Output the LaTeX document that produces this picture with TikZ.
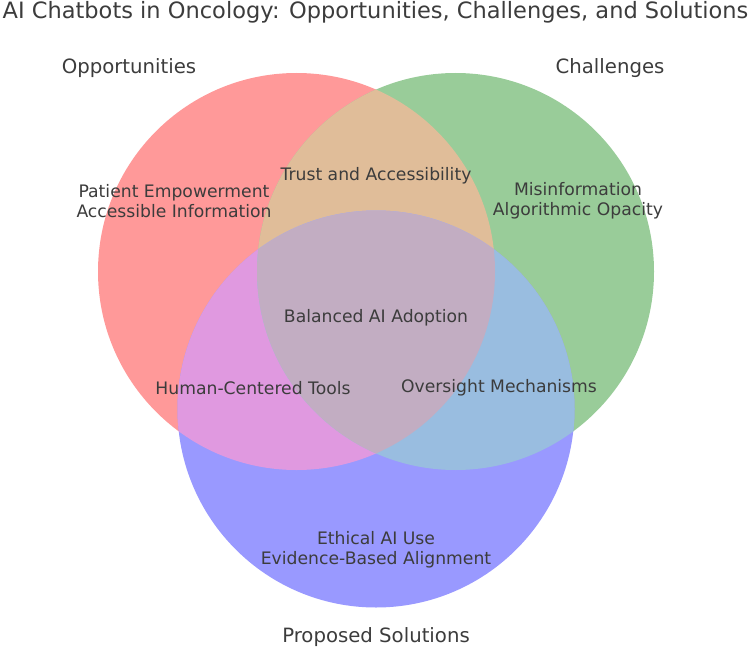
\documentclass[tikz,border=0pt]{standalone}
\usepackage{fontspec}
\setmainfont{DejaVu Sans}
\definecolor{cR}{RGB}{255,153,153}
\definecolor{cG}{RGB}{153,204,153}
\definecolor{cB}{RGB}{153,153,255}
\definecolor{cRG}{RGB}{224,189,153}
\definecolor{cRB}{RGB}{224,153,224}
\definecolor{cGB}{RGB}{153,189,224}
\definecolor{cRGB}{RGB}{194,173,194}
\definecolor{txt}{RGB}{60,60,60}
\tikzset{
  lbl/.style={text=txt, align=center, inner sep=0pt, font=\fontsize{17.2}{20}\selectfont},
  setlbl/.style={text=txt, inner sep=0pt, font=\fontsize{19.7}{23}\selectfont},
  ttl/.style={text=txt, inner sep=0pt, font=\fontsize{22.5}{26}\selectfont}
}
\begin{document}
\begin{tikzpicture}[x=1pt,y=-1pt]
\useasboundingbox (0,0) rectangle (751,650);
\def\rr{198.5}
\coordinate (cr) at (296.5,271.5);
\coordinate (cg) at (455.5,271.5);
\coordinate (cb) at (376,409);
% single sets
\fill[cR] (cr) circle (\rr);
\fill[cG] (cg) circle (\rr);
\fill[cB] (cb) circle (\rr);
% pairwise
\begin{scope}
  \clip (cr) circle (\rr);
  \fill[cRG] (cg) circle (\rr);
  \fill[cRB] (cb) circle (\rr);
\end{scope}
\begin{scope}
  \clip (cg) circle (\rr);
  \fill[cGB] (cb) circle (\rr);
\end{scope}
\begin{scope}
  \clip (cr) circle (\rr);
  \clip (cg) circle (\rr);
  \fill[cRGB] (cb) circle (\rr);
\end{scope}
% title
\node[ttl] (title) at (375.5,12) {AI Chatbots in Oncology: Opportunities, Challenges, and Solutions};
% set labels
\node[setlbl] (sA) at (129,68) {Opportunities};
\node[setlbl] (sB) at (610,68) {Challenges};
\node[setlbl] (sC) at (376,637) {Proposed Solutions};
% region labels
\node[lbl] (r100) at (174,201) {Patient Empowerment\\Accessible Information};
\node[lbl] (r010) at (578,201) {Misinformation\\Algorithmic Opacity};
\node[lbl] (r110) at (376,176) {Trust and Accessibility};
\node[lbl] (r111) at (376,318) {Balanced AI Adoption};
\node[lbl] (r101) at (253,388) {Human-Centered Tools};
\node[lbl] (r011) at (499,388) {Oversight Mechanisms};
\node[lbl] (r001) at (376,550) {Ethical AI Use\\Evidence-Based Alignment};
\end{tikzpicture}
\end{document}
